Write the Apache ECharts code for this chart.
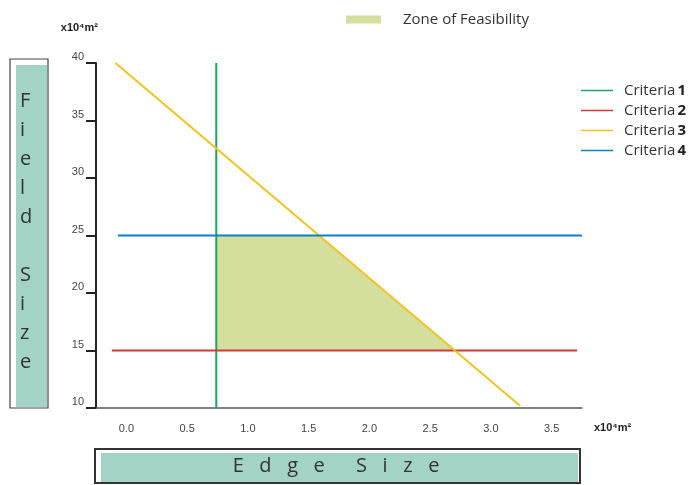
<!DOCTYPE html>
<html>
<head>
<meta charset="utf-8">
<script src="https://cdn.jsdelivr.net/npm/echarts@6/dist/echarts.min.js"></script>
<style>
  html, body { margin: 0; padding: 0; background: #fff; }
  #chart { width: 694px; height: 485px; }
</style>
</head>
<body>
<div id="chart"></div>
<script>
// tick labels on the edge axis
const edgeLabels = ['0.0', '0.5', '1.0', '1.5', '2.0', '2.5', '3.0', '3.5'];

// criteria lines (edge size, field size) in x10^4 m2
const crit1X = [0.74, 0.74];
const crit1Y = [10, 40];
const crit2X = [-0.12, 3.71];
const crit2Y = [15, 15];
const crit3X = [-0.09, 3.24];
const crit3Y = [40, 10.2];
const crit4X = [-0.07, 3.75];
const crit4Y = [25, 25];

// zone of feasibility corners
const zoneX = [0.74, 1.58, 2.7, 0.74];
const zoneY = [25, 25, 15, 15];

const font = '"Open Sans", "Noto Sans", sans-serif';
const pairs = (xs, ys) => xs.map((x, i) => [x, ys[i]]);

function lineSeries(name, xs, ys, color) {
  return {
    name: name,
    type: 'line',
    xAxisIndex: 1,
    data: pairs(xs, ys),
    symbol: 'none',
    lineStyle: { color: color, width: 2 },
    itemStyle: { color: color },
    z: 3
  };
}

const chart = echarts.init(document.getElementById('chart'));

const option = {
  animation: false,
  textStyle: { fontFamily: font },
  grid: { left: 96, top: 63, width: 486, height: 345 },
  legend: [
    {
      data: ['Zone of Feasibility'],
      left: 346, top: 12, padding: 0,
      icon: 'rect', itemWidth: 35, itemHeight: 8,
      textStyle: { fontSize: 15, color: '#333', padding: [0, 0, 0, 17] }
    },
    {
      data: ['Criteria 1', 'Criteria 2', 'Criteria 3', 'Criteria 4'],
      orient: 'vertical',
      left: 581, top: 83, padding: 0,
      icon: 'rect', itemWidth: 32, itemHeight: 1.5, itemGap: 5,
      formatter: function (name) {
        return '{a|Criteria}{b|' + name.split(' ')[1] + '}';
      },
      textStyle: {
        padding: [0, 0, 0, 6],
        rich: {
          a: { fontSize: 15, color: '#333', lineHeight: 15, fontFamily: font },
          b: { fontSize: 15, color: '#222', fontWeight: 'bold', lineHeight: 15, fontFamily: font, padding: [0, 0, 0, 2] }
        }
      }
    }
  ],
  xAxis: [
    {
      type: 'category',
      data: edgeLabels,
      boundaryGap: true,
      name: 'x10⁴m²',
      nameLocation: 'end',
      nameGap: 12,
      nameTextStyle: { fontSize: 11, fontWeight: 'bold', color: '#222', verticalAlign: 'top', padding: [14, 0, 0, 0], fontFamily: 'Liberation Sans' },
      axisLine: { lineStyle: { color: '#555', width: 1.5 } },
      axisTick: { length: 10, lineStyle: { color: '#222', width: 2 } },
      axisLabel: { fontSize: 11, color: '#444', margin: 15, fontFamily: 'Liberation Sans' },
      splitLine: { show: false }
    },
    {
      type: 'value',
      min: -0.25,
      max: 3.75,
      show: false
    }
  ],
  yAxis: {
    type: 'value',
    min: 10,
    max: 40,
    interval: 5,
    name: 'x10⁴m²',
    nameLocation: 'end',
    nameGap: 30,
    nameTextStyle: { fontSize: 11, fontWeight: 'bold', color: '#222', align: 'right', padding: [0, -2, 0, 0], fontFamily: 'Liberation Sans' },
    axisLine: { show: true, onZero: false, lineStyle: { color: '#222', width: 2 } },
    axisTick: { show: true, length: 10, lineStyle: { color: '#222', width: 2 } },
    axisLabel: { fontSize: 11, color: '#444', margin: 12, verticalAlign: 'bottom', lineHeight: 12, fontFamily: 'Liberation Sans' },
    splitLine: { show: false }
  },
  graphic: [
    // Field Size side label
    { type: 'rect', shape: { x: 10, y: 59, width: 38, height: 349 }, style: { fill: '#fff', stroke: '#444', lineWidth: 1.2 } },
    { type: 'rect', shape: { x: 16, y: 65, width: 31, height: 342 }, style: { fill: '#a3d2c7' } },
    {
      type: 'text', left: 20, top: 87,
      style: { text: 'F\ni\ne\nl\nd\n \nS\ni\nz\ne', fontSize: 20, lineHeight: 29, fill: '#333', align: 'center', width: 14, fontFamily: font }
    },
    // Edge Size bottom label
    { type: 'rect', shape: { x: 95, y: 449, width: 485, height: 34 }, style: { fill: '#fff', stroke: '#333', lineWidth: 2 } },
    { type: 'rect', shape: { x: 101, y: 453, width: 477, height: 29 }, style: { fill: '#a3d2c7' } },
    {
      type: 'text', x: 336, y: 466,
      style: { text: 'E   d   g   e      S   i   z   e', fontSize: 20, fill: '#333', align: 'center', verticalAlign: 'middle', fontFamily: font }
    }
  ],
  series: [
    {
      name: 'Zone of Feasibility',
      type: 'custom',
      xAxisIndex: 1,
      data: pairs(zoneX, zoneY),
      itemStyle: { color: '#d4df9d' },
      z: 1,
      renderItem: function (params, api) {
        if (params.dataIndex !== 0) return null;
        return {
          type: 'polygon',
          shape: { points: zoneX.map((x, i) => api.coord([x, zoneY[i]])) },
          style: { fill: '#d4df9d' }
        };
      }
    },
    lineSeries('Criteria 1', crit1X, crit1Y, '#1aa85a'),
    lineSeries('Criteria 2', crit2X, crit2Y, '#d0393a'),
    lineSeries('Criteria 3', crit3X, crit3Y, '#f5c21b'),
    lineSeries('Criteria 4', crit4X, crit4Y, '#0a80c6')
  ]
};

chart.setOption(option);
</script>
</body>
</html>
